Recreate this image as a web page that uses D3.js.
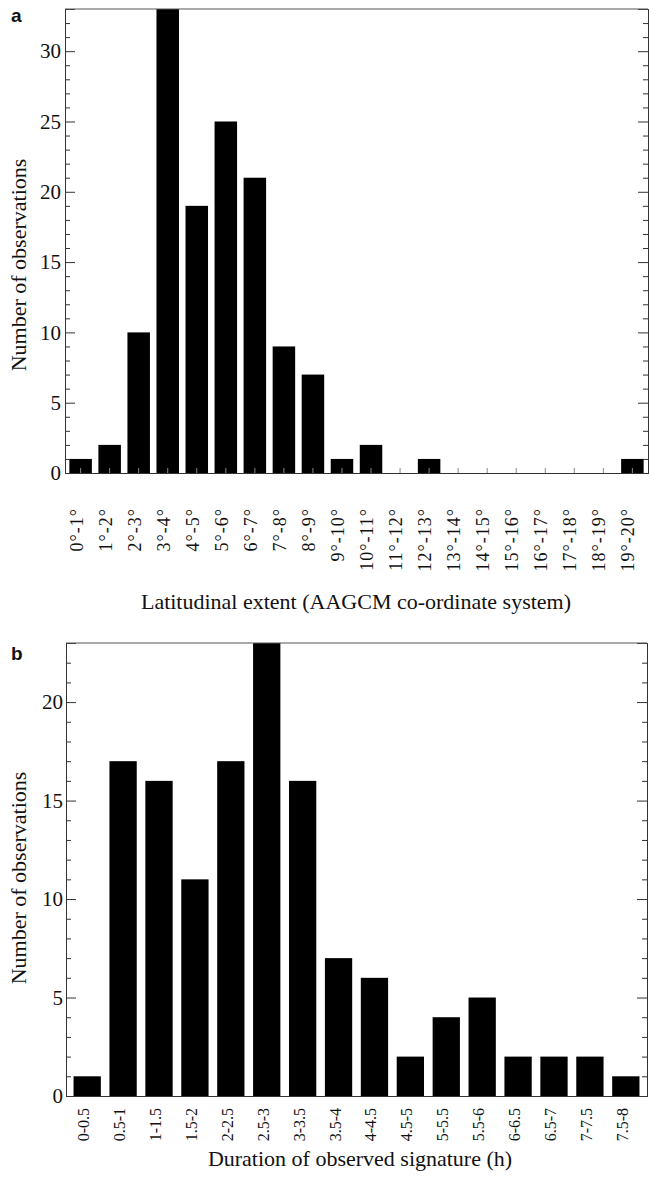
<!DOCTYPE html>
<html>
<head>
<meta charset="utf-8">
<script src="https://cdn.jsdelivr.net/npm/d3@7"></script>
<style>
  body { margin: 0; background: #fff; }
  svg { display: block; }
  text { font-family: "Liberation Serif", "Times New Roman", serif; fill: #111; }
</style>
</head>
<body>
<svg id="chart" width="649" height="1183"></svg>
<script>
// ---- Data ----
const latCategories = ["0°-1°","1°-2°","2°-3°","3°-4°","4°-5°","5°-6°","6°-7°","7°-8°","8°-9°","9°-10°",
  "10°-11°","11°-12°","12°-13°","13°-14°","14°-15°","15°-16°","16°-17°","17°-18°","18°-19°","19°-20°"];
const latCounts = [1, 2, 10, 33, 19, 25, 21, 9, 7, 1, 2, 0, 1, 0, 0, 0, 0, 0, 0, 1];
const latYTicks = [0, 5, 10, 15, 20, 25, 30];

const durCategories = ["0-0.5","0.5-1","1-1.5","1.5-2","2-2.5","2.5-3","3-3.5","3.5-4",
  "4-4.5","4.5-5","5-5.5","5.5-6","6-6.5","6.5-7","7-7.5","7.5-8"];
const durCounts = [1, 17, 16, 11, 17, 23, 16, 7, 6, 2, 4, 5, 2, 2, 2, 1];
const durYTicks = [0, 5, 10, 15, 20];

const svg = d3.select("#chart");

function panel(opts) {
  const g = svg.append("g");
  const x = d3.scaleBand().domain(opts.categories).range([opts.left, opts.right])
    .paddingInner(opts.padIn).paddingOuter(opts.padOut);
  const y = d3.scaleLinear().domain([0, opts.ymax]).range([opts.bottom, opts.top]);

  // bars
  g.selectAll("rect.bar").data(opts.values).enter().append("rect")
    .attr("class", "bar")
    .attr("x", (d, i) => x(opts.categories[i]))
    .attr("width", x.bandwidth())
    .attr("y", d => y(d))
    .attr("height", d => y(0) - y(d))
    .attr("fill", "#000");

  const minor = d3.range(0, opts.ymax + 1);
  // left axis minor/major ticks (inward)
  g.append("g").attr("transform", `translate(${opts.left},0)`)
    .call(d3.axisRight(y).tickValues(minor.filter(v => v % 5 !== 0)).tickSize(5).tickFormat(""));
  g.append("g").attr("transform", `translate(${opts.left},0)`)
    .call(d3.axisRight(y).tickValues(opts.yticks).tickSize(10).tickFormat(""));
  const leftLab = g.append("g").attr("transform", `translate(${opts.left},0)`)
    .call(d3.axisLeft(y).tickValues(opts.yticks).tickSize(0).tickPadding(opts.labPad));
  leftLab.selectAll("text").style("font-size", opts.tickFont + "px")
    .style("font-family", '"Liberation Serif", serif').attr("fill", "#111");
  leftLab.select(".domain").remove();

  // right axis ticks (inward)
  g.append("g").attr("transform", `translate(${opts.right},0)`)
    .call(d3.axisLeft(y).tickValues(minor.filter(v => v % 5 !== 0)).tickSize(5).tickFormat(""));
  g.append("g").attr("transform", `translate(${opts.right},0)`)
    .call(d3.axisLeft(y).tickValues(opts.yticks).tickSize(10).tickFormat(""));

  // bottom axis
  const bx = g.append("g").attr("transform", `translate(0,${opts.bottom})`)
    .call(d3.axisTop(x).tickSize(opts.xTickSize).tickFormat(""));
  bx.selectAll(".tick line").attr("stroke", "#888");

  // top border
  g.append("line").attr("x1", opts.left).attr("x2", opts.right)
    .attr("y1", opts.top).attr("y2", opts.top).attr("stroke", "#555");

  g.selectAll(".domain").attr("stroke", "#333");
  g.selectAll(".tick line").filter(function() { return d3.select(this).attr("stroke") !== "#888"; })
    .attr("stroke", "#333");

  // x category labels (rotated)
  g.selectAll("text.xlab").data(opts.categories).enter().append("text")
    .attr("class", "xlab")
    .attr("transform", d => `translate(${x(d) + x.bandwidth() / 2 + 2},${opts.labTop}) rotate(-90)`)
    .attr("text-anchor", "end")
    .style("font-size", opts.xlabFont + "px")
    .style("letter-spacing", opts.xlabSpacing + "px")
    .text(d => d);

  // x title
  g.append("text").attr("x", opts.xTitleX).attr("y", opts.xTitleY)
    .attr("text-anchor", "middle").style("font-size", "22px").text(opts.xTitle);

  // y title
  g.append("text")
    .attr("transform", `translate(26,${opts.yTitleY}) rotate(-90)`)
    .attr("text-anchor", "middle").style("font-size", "22px").text("Number of observations");

  // panel letter
  g.append("text").attr("x", 11).attr("y", opts.letterY)
    .style("font-family", '"Liberation Sans", Arial, sans-serif')
    .style("font-weight", "bold").style("font-size", "19px").text(opts.letter);
}

panel({
  categories: latCategories, values: latCounts, yticks: latYTicks, ymax: 33,
  left: 65, right: 648, top: 9, bottom: 473, padIn: 0.225, padOut: 0.15,
  tickFont: 21, labPad: 4, xTickSize: 5,
  labTop: 508, xlabFont: 18, xlabSpacing: 1,
  xTitle: "Latitudinal extent (AAGCM co-ordinate system)", xTitleX: 356, xTitleY: 609,
  yTitleY: 265, letter: "a", letterY: 22
});

panel({
  categories: durCategories, values: durCounts, yticks: durYTicks, ymax: 23,
  left: 66, right: 647, top: 643, bottom: 1096, padIn: 0.24, padOut: 0.21,
  tickFont: 21, labPad: 3, xTickSize: 0,
  labTop: 1108, xlabFont: 16, xlabSpacing: 0,
  xTitle: "Duration of observed signature (h)", xTitleX: 360, xTitleY: 1166,
  yTitleY: 878, letter: "b", letterY: 660
});
</script>
</body>
</html>
